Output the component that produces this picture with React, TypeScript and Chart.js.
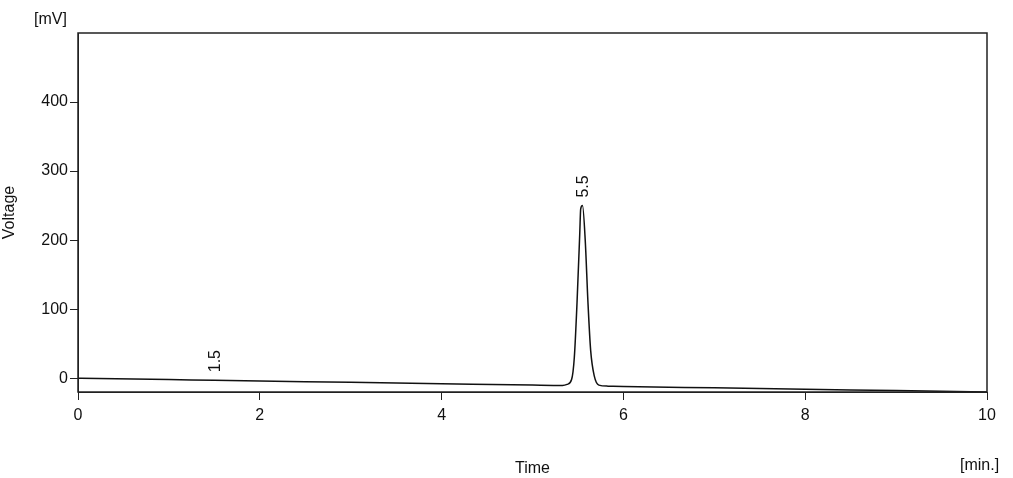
import React, { useEffect, useRef } from 'react';
import { Chart, registerables } from 'chart.js';

Chart.register(...registerables);

const times = [0, 1, 1.5, 2, 3, 4, 5, 5.33, 5.38, 5.43, 5.46, 5.49, 5.52, 5.53, 5.55, 5.58, 5.61, 5.64, 5.68, 5.73, 5.83, 6, 7, 8, 9, 10];
const voltage = [0, -2, -3, -4, -6, -8, -10, -10.5, -9, -2, 30, 110, 210, 245, 250, 200, 110, 40, 3, -10, -11.5, -12, -14, -16, -18, -20];
const peakLabels = [
  { t: 1.5, v: -3, text: '1.5' },
  { t: 5.55, v: 250, text: '5.5' },
];
const yTicks = [0, 100, 200, 300, 400];

const font = { family: 'Liberation Sans, Arial, sans-serif', size: 16 };

const decor = {
  id: 'decor',
  afterDraw(chart: any) {
    const { ctx, chartArea: a, scales } = chart;
    ctx.save();
    ctx.strokeStyle = '#222';
    ctx.lineWidth = 1.5;
    ctx.strokeRect(a.left, a.top, a.right - a.left, a.bottom - a.top);
    ctx.fillStyle = '#111';
    ctx.font = '16px Liberation Sans, Arial, sans-serif';
    for (const p of peakLabels) {
      const x = scales.x.getPixelForValue(p.t);
      const y = scales.y.getPixelForValue(p.v) - 8;
      ctx.save();
      ctx.translate(x + 6, y);
      ctx.rotate(-Math.PI / 2);
      ctx.textAlign = 'left';
      ctx.fillText(p.text, 0, 0);
      ctx.restore();
    }
    ctx.textAlign = 'left';
    ctx.fillText('[mV]', 34, 24);
    ctx.fillText('[min.]', 960, 470);
    ctx.restore();
  },
};

export default function App() {
  const canvas = useRef<HTMLCanvasElement>(null);

  useEffect(() => {
    document.body.style.margin = '0';
    document.body.style.background = '#fff';
    const chart = new Chart(canvas.current!, {
      type: 'line',
      data: {
        datasets: [{
          data: times.map((t, i) => ({ x: t, y: voltage[i] })),
          borderColor: '#111',
          borderWidth: 1.5,
          pointRadius: 0,
          tension: 0.4,
          cubicInterpolationMode: 'monotone',
        }],
      },
      options: {
        animation: false,
        responsive: false,
        layout: { padding: { top: 33, right: 26, bottom: 0, left: 0 } },
        plugins: { legend: { display: false }, tooltip: { enabled: false } },
        scales: {
          x: {
            type: 'linear',
            min: 0,
            max: 10,
            ticks: { stepSize: 2, color: '#111', font, padding: 6 },
            grid: { drawOnChartArea: false, tickLength: 8, color: '#222' },
            border: { color: '#222' },
            title: { display: true, text: 'Time', color: '#111', font, padding: 0 },
            afterFit: (s: any) => { s.height = 86; },
          },
          y: {
            min: -20,
            max: 500,
            afterBuildTicks: (s: any) => { s.ticks = yTicks.map((v) => ({ value: v })); },
            ticks: { color: '#111', font, padding: 2 },
            grid: { drawOnChartArea: false, tickLength: 8, color: '#222' },
            border: { color: '#222' },
            title: { display: true, text: 'Voltage', color: '#111', font, padding: 0 },
            afterFit: (s: any) => { s.width = 78; },
          },
        },
      },
      plugins: [decor],
    });
    return () => chart.destroy();
  }, []);

  return <canvas ref={canvas} width={1013} height={478} style={{ display: 'block' }} />;
}
